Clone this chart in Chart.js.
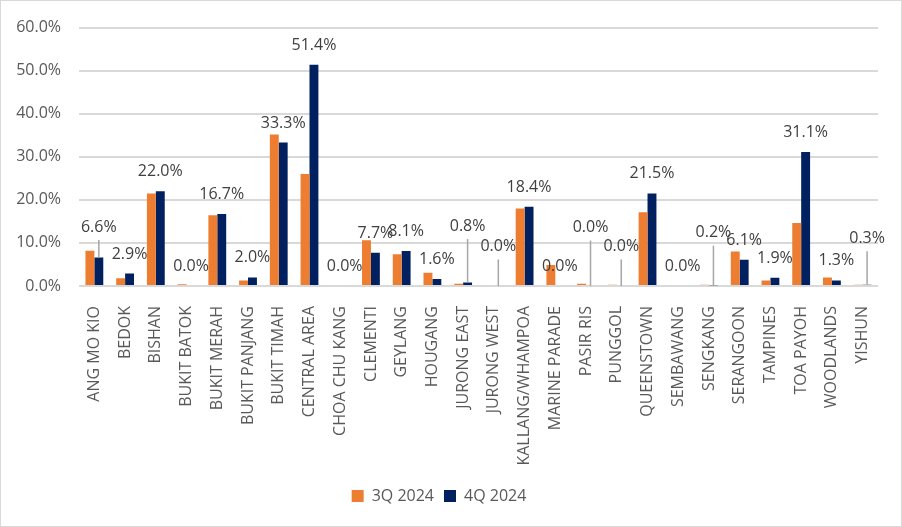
<!DOCTYPE html>
<html>
<head>
<meta charset="utf-8">
<script src="https://cdn.jsdelivr.net/npm/chart.js@4/dist/chart.umd.min.js"></script>
<style>
  html, body { margin: 0; padding: 0; background: #fff; }
  #wrap { width: 902px; height: 527px; position: relative; }
</style>
</head>
<body>
<div id="wrap"><canvas id="c" width="902" height="527"></canvas></div>
<script>
const categories = [
  "ANG MO KIO", "BEDOK", "BISHAN", "BUKIT BATOK", "BUKIT MERAH", "BUKIT PANJANG",
  "BUKIT TIMAH", "CENTRAL AREA", "CHOA CHU KANG", "CLEMENTI", "GEYLANG", "HOUGANG",
  "JURONG EAST", "JURONG WEST", "KALLANG/WHAMPOA", "MARINE PARADE", "PASIR RIS",
  "PUNGGOL", "QUEENSTOWN", "SEMBAWANG", "SENGKANG", "SERANGOON", "TAMPINES",
  "TOA PAYOH", "WOODLANDS", "YISHUN"
];
const seriesNames = ["3Q 2024", "4Q 2024"];
const q3_2024 = [8.2, 1.8, 21.5, 0.4, 16.4, 1.3, 35.2, 26.0, 0.0, 10.6, 7.4, 3.1,
                 0.5, 0.0, 18.0, 4.9, 0.5, 0.3, 17.1, 0.0, 0.3, 8.0, 1.3, 14.6, 2.0, 0.3];
const q4_2024 = [6.6, 2.9, 22.0, 0.0, 16.7, 2.0, 33.3, 51.4, 0.0, 7.7, 8.1, 1.6,
                 0.8, 0.0, 18.4, 0.0, 0.0, 0.0, 21.5, 0.0, 0.2, 6.1, 1.9, 31.1, 1.3, 0.3];
const yTickValues = [0, 10, 20, 30, 40, 50, 60];

// Label placement tweaks (pixels raised above default, with leader line)
const labelLift = { 0: 11, 12: 37, 13: 20, 16: 39, 17: 20, 20: 33, 25: 27 };

const FONT = "'Open Sans', sans-serif";

const frame = {
  id: 'frame',
  beforeDraw(chart) {
    const ctx = chart.ctx;
    ctx.save();
    ctx.fillStyle = '#ffffff';
    ctx.fillRect(0, 0, chart.width, chart.height);
    ctx.strokeStyle = '#d9d9d9';
    ctx.lineWidth = 1;
    ctx.strokeRect(0.5, 0.5, chart.width - 1, chart.height - 1);
    ctx.restore();
  }
};

const dataLabels = {
  id: 'dataLabels',
  afterDatasetsDraw(chart) {
    const ctx = chart.ctx;
    const meta = chart.getDatasetMeta(1);
    const ds = chart.data.datasets[1];
    ctx.save();
    ctx.font = "16px " + FONT;
    ctx.textAlign = 'center';
    ctx.textBaseline = 'middle';
    meta.data.forEach((bar, i) => {
      const v = ds.data[i];
      const top = bar.y;
      const lift = labelLift[i] || 0;
      const ly = top - 19.5 - lift;
      if (lift) {
        ctx.strokeStyle = '#a6a6a6';
        ctx.lineWidth = 1.5;
        ctx.beginPath();
        ctx.moveTo(bar.x, ly + 13);
        ctx.lineTo(bar.x, top);
        ctx.stroke();
      }
      ctx.fillStyle = '#404040';
      ctx.fillText(v.toFixed(1) + '%', bar.x, ly);
    });
    ctx.restore();
  }
};

new Chart(document.getElementById('c'), {
  type: 'bar',
  data: {
    labels: categories,
    datasets: [
      { label: seriesNames[0], data: q3_2024, backgroundColor: '#ED7D31',
        categoryPercentage: 0.58, barPercentage: 1.0 },
      { label: seriesNames[1], data: q4_2024, backgroundColor: '#002060',
        categoryPercentage: 0.58, barPercentage: 1.0 }
    ]
  },
  options: {
    responsive: false,
    animation: false,
    layout: { padding: { top: 24, right: 24, bottom: 13, left: 0 } },
    plugins: {
      legend: {
        position: 'bottom',
        labels: {
          boxWidth: 12, boxHeight: 12, padding: 10,
          color: '#595959', font: { family: FONT, size: 16 }
        }
      },
      tooltip: { enabled: false }
    },
    scales: {
      x: {
        grid: { display: false },
        border: { display: false },
        ticks: {
          autoSkip: false, minRotation: 90, maxRotation: 90, padding: 12,
          color: '#595959', font: { family: FONT, size: 16 }
        },
        afterFit(scale) { scale.height = 192; }
      },
      y: {
        min: 0, max: 60,
        afterBuildTicks(scale) { scale.ticks = yTickValues.map(v => ({ value: v })); },
        grid: { color: '#d9d9d9', lineWidth: 2, drawTicks: false },
        border: { display: false },
        ticks: {
          padding: 18, color: '#595959', font: { family: FONT, size: 16 },
          callback: v => v.toFixed(1) + '%'
        },
        afterFit(scale) { scale.width = 79; }
      }
    }
  },
  plugins: [frame, dataLabels]
});
</script>
</body>
</html>
